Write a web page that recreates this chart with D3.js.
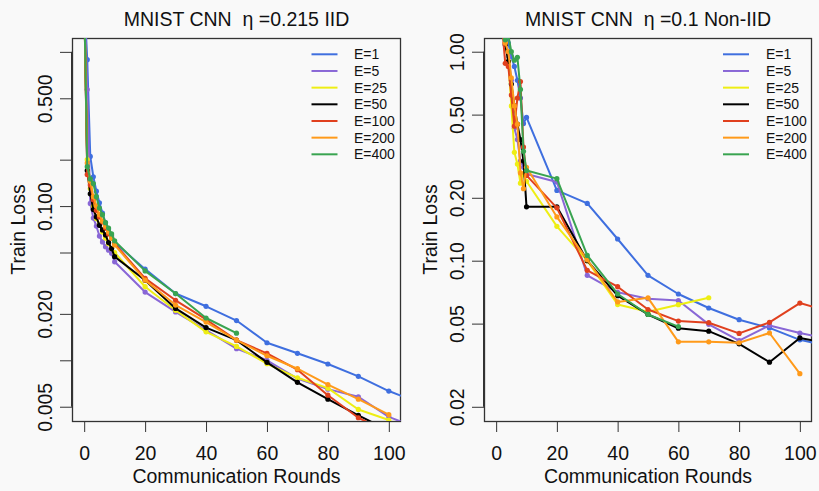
<!DOCTYPE html>
<html><head><meta charset="utf-8">
<script src="https://cdn.jsdelivr.net/npm/d3@7/dist/d3.min.js"></script>
<style>
html,body{margin:0;padding:0;background:#f9f9f9;}
svg{display:block;}
text{font-family:"Liberation Sans",Arial,Helvetica,sans-serif;fill:#111;}
</style></head>
<body>
<svg id="chart" width="819" height="491"></svg>
<script>
// ---------- data ----------
const rounds = [0,1,2,3,4,5,6,7,8,9,10,20,30,40,50,60,70,80,90,100,110];
const seriesNames = ["E=1","E=5","E=25","E=50","E=100","E=200","E=400"];
const seriesColors = ["#3f6fdf","#8967d6","#eeee14","#000000","#e0401e","#ff9a1a","#39a450"];

// IID panel (eta = 0.215)
const iidE1   = [2.3,0.89,0.21,0.155,0.125,0.105,0.09,0.078,0.071,0.064,0.058,0.039,0.0271,0.0224,0.0181,0.0130,0.0111,0.00946,0.00787,0.00632,0.0053];
const iidE5   = [2.3,0.57,0.104,0.0836,0.0742,0.0639,0.0586,0.0544,0.0518,0.0493,0.0435,0.0277,0.0206,0.0157,0.0119,0.0100,0.0076,0.0065,0.0058,0.0043,0.0036];
const iidE25  = [2.3,0.2,0.13,0.1,0.083,0.076,0.068,0.062,0.057,0.053,0.05,0.030,0.0211,0.0153,0.0123,0.0095,0.0077,0.0066,0.0048,0.0041,null];
const iidE50  = [2.3,0.17,0.12,0.095,0.085,0.075,0.07,0.065,0.058,0.053,0.047,0.033,0.0217,0.0163,0.0135,0.0097,0.0072,0.0056,0.0044,0.0035,null];
const iidE100 = [2.3,0.16,0.137,0.11,0.094,0.085,0.079,0.072,0.066,0.062,0.057,0.034,0.0245,0.0184,0.0135,0.0111,0.00869,0.00594,0.00424,0.0034,null];
const iidE200 = [2.3,0.19,0.145,0.115,0.1,0.088,0.08,0.074,0.068,0.062,0.056,0.0331,0.0228,0.0177,0.0135,0.0107,0.00882,0.00696,0.0056,0.00444,null];
const iidE400 = [2.3,0.18,0.15,0.14,0.115,0.097,0.088,0.078,0.072,0.066,0.0595,0.038,0.0271,0.0188,0.0150,null,null,null,null,null,null];

// Non-IID panel (eta = 0.1)
const niidE1   = [2.3,2.0,1.6,1.3,1.1,0.95,0.85,0.73,0.6,0.453,0.485,0.217,0.188,0.127,0.0851,0.0693,0.0594,0.0522,0.0477,0.0418,0.039];
const niidE5   = [2.3,1.9,1.4,1.1,0.95,0.73,0.43,0.38,0.3,0.28,0.26,0.238,0.0851,0.0706,0.0658,0.0645,0.0496,0.0415,0.049,0.0451,0.042];
const niidE25  = [2.3,1.9,1.4,1.1,0.9,0.55,0.33,0.29,0.235,0.26,0.24,0.146,0.1,0.0617,0.057,0.0616,0.0665,null,null,null,null];
const niidE50  = [2.3,1.8,1.3,1.08,0.9,0.7,0.55,0.45,0.38,0.3,0.181,0.181,0.1,0.068,0.0553,0.0475,0.046,0.040,0.0327,0.0427,0.040];
const niidE100 = [2.3,1.8,1.3,0.88,0.85,0.62,0.44,0.6,0.72,0.35,0.256,0.179,0.0899,0.0751,0.0584,0.0514,0.0505,0.0449,0.0507,0.0627,0.057];
const niidE200 = [2.3,1.9,1.4,1.1,1.0,0.75,0.55,0.45,0.263,0.221,0.28,0.162,0.101,0.0635,0.0664,0.0409,0.0409,0.0405,0.0451,0.0288,null];
const niidE400 = [2.3,1.9,1.5,1.14,1.2,1.0,0.91,0.94,0.66,0.334,0.27,0.247,0.106,0.0693,0.0553,0.0484,null,null,null,null,null];

const xTicks = [0,20,40,60,80,100];
const iidYTicks = [1,0.5,0.2,0.1,0.05,0.02,0.01,0.005];
const iidYLabels = {"0.5":"0.500","0.1":"0.100","0.02":"0.020","0.005":"0.005"};
const niidYTicks = [1,0.5,0.2,0.1,0.05,0.02];
const niidYLabels = {"1":"1.00","0.5":"0.50","0.2":"0.20","0.1":"0.10","0.05":"0.05","0.02":"0.02"};

const panels = [
  {title:"MNIST CNN  \u03b7 =0.215 IID", x0:72, x1:401, yDomain:[0.00404,1.23],
   series:[iidE1,iidE5,iidE25,iidE50,iidE100,iidE200,iidE400], yTicks:iidYTicks, yLabels:iidYLabels,
   legendLineX:311.5, legendTextX:354},
  {title:"MNIST CNN  \u03b7 =0.1 Non-IID", x0:484, x1:812, yDomain:[0.0171,1.163],
   series:[niidE1,niidE5,niidE25,niidE50,niidE100,niidE200,niidE400], yTicks:niidYTicks, yLabels:niidYLabels,
   legendLineX:723, legendTextX:766}
];

// ---------- drawing ----------
const svg = d3.select("#chart");
const plotTop = 38, plotBottom = 421;
const FS = 19.5;

panels.forEach((p, pi) => {
  const x = d3.scaleLinear().domain([-4,104]).range([p.x0, p.x1]);
  const y = d3.scaleLog().domain(p.yDomain).range([plotBottom, plotTop]);
  const g = svg.append("g");
  const clipId = "clip" + pi;
  svg.append("defs").append("clipPath").attr("id", clipId)
    .append("rect").attr("x", p.x0).attr("y", plotTop).attr("width", p.x1 - p.x0).attr("height", plotBottom - plotTop);

  // title
  g.append("text").attr("x", (p.x0 + p.x1) / 2).attr("y", 26).attr("text-anchor", "middle")
    .attr("xml:space", "preserve").style("white-space", "pre")
    .style("font-size", FS + "px").text(p.title);

  // x axis
  const xa = g.append("g").attr("transform", `translate(0,${plotBottom})`)
    .call(d3.axisBottom(x).tickValues(xTicks).tickSize(11).tickPadding(0).tickFormat(d3.format("d")));
  xa.select(".domain").attr("d", `M${x(0)},0.5H${x(100)}`).attr("stroke", "#333");
  xa.selectAll(".tick line").attr("stroke", "#333");
  xa.selectAll(".tick text").attr("y", 39).attr("dy", null).style("font-size", FS + "px").attr("fill", "#111");

  // y axis
  const ya = g.append("g").attr("transform", `translate(${p.x0},0)`)
    .call(d3.axisLeft(y).tickValues(p.yTicks).tickSize(12)
      .tickFormat(d => p.yLabels[String(d)] || ""));
  ya.select(".domain").attr("d", `M-0.5,${y(p.yTicks[0])}V${y(p.yTicks[p.yTicks.length-1])}`).attr("stroke", "#333");
  ya.selectAll(".tick line").attr("stroke", "#333");
  ya.selectAll(".tick text")
    .attr("x", null).attr("dy", null).attr("y", null)
    .attr("transform", "translate(-20,0) rotate(-90)")
    .attr("text-anchor", "middle")
    .style("font-size", FS + "px").attr("fill", "#111");

  // box
  g.append("rect").attr("x", p.x0 + 0.5).attr("y", plotTop + 0.5)
    .attr("width", p.x1 - p.x0 - 1).attr("height", plotBottom - plotTop)
    .attr("fill", "none").attr("stroke", "#333").attr("stroke-width", 1.3);

  // axis titles
  g.append("text").attr("x", (p.x0 + p.x1) / 2).attr("y", 483).attr("text-anchor", "middle")
    .style("font-size", FS + "px").text("Communication Rounds");
  g.append("text").attr("transform", `translate(${p.x0 - 47},${(plotTop + plotBottom) / 2}) rotate(-90)`)
    .attr("text-anchor", "middle").style("font-size", FS + "px").text("Train Loss");

  // series
  const plot = g.append("g").attr("clip-path", `url(#${clipId})`);
  const line = d3.line().defined(d => d[1] != null).x(d => x(d[0])).y(d => y(d[1]));
  p.series.forEach((vals, si) => {
    const pts = rounds.map((r, i) => [r, vals[i]]);
    plot.append("path").datum(pts).attr("d", line)
      .attr("fill", "none").attr("stroke", seriesColors[si]).attr("stroke-width", 2)
      .attr("stroke-linejoin", "round");
    plot.selectAll(null).data(pts.filter(d => d[1] != null)).enter().append("circle")
      .attr("cx", d => x(d[0])).attr("cy", d => y(d[1])).attr("r", 2.6)
      .attr("fill", seriesColors[si]);
  });

  // legend
  const lg = g.append("g");
  seriesNames.forEach((n, i) => {
    const yy = 54.3 + i * 16.67;
    lg.append("line").attr("x1", p.legendLineX).attr("x2", p.legendLineX + 26)
      .attr("y1", yy).attr("y2", yy).attr("stroke", seriesColors[i]).attr("stroke-width", 2);
    lg.append("text").attr("x", p.legendTextX).attr("y", yy + 5).style("font-size", "14px").text(n);
  });
});
</script>
</body></html>
